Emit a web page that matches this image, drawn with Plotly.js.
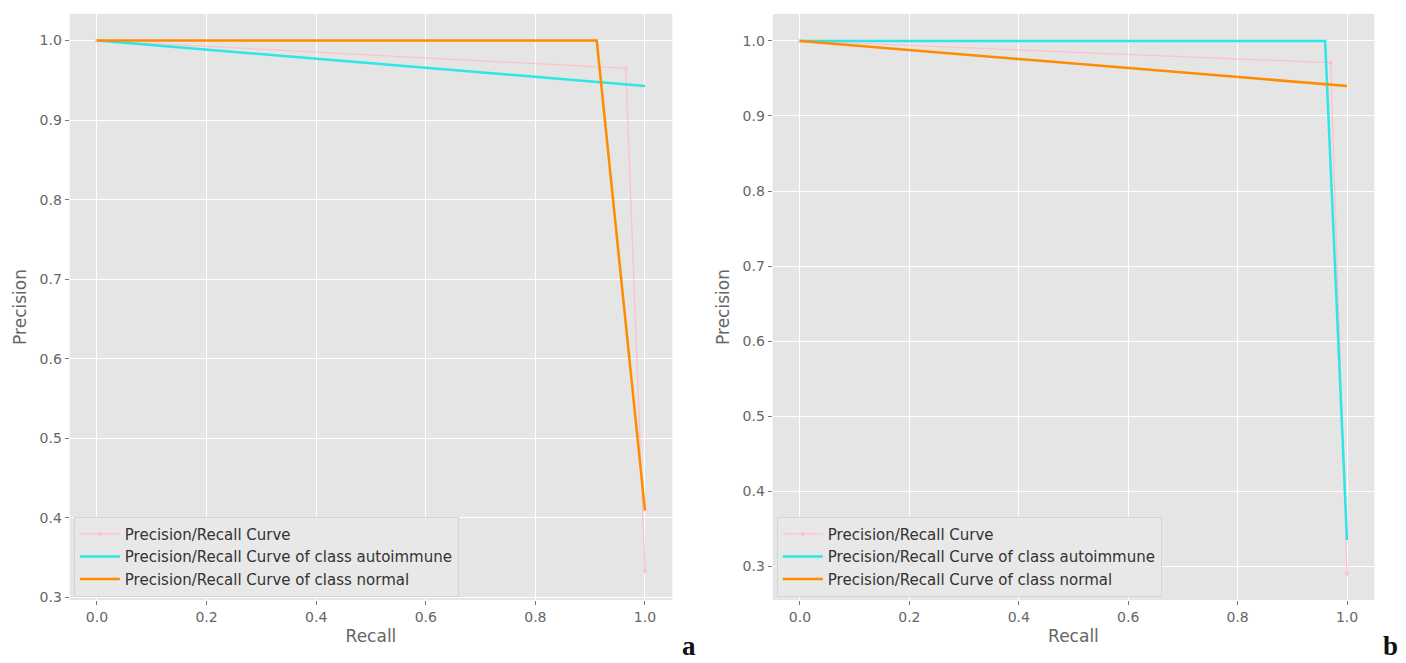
<!DOCTYPE html>
<html>
<head>
<meta charset="utf-8">
<script src="https://cdn.plot.ly/plotly-3.0.1.min.js"></script>
<style>html,body{margin:0;padding:0;background:#fff;}#chart{width:1406px;height:663px;}</style>
</head>
<body>
<div id="chart"></div>
<script>
// Panel a
const aPinkRecall = [0.0, 0.965, 1.0];
const aPinkPrecision = [1.0, 0.965, 0.333];
const aAutoRecall = [0.0, 1.0];
const aAutoPrecision = [1.0, 0.943];
const aNormalRecall = [0.0, 0.912, 1.0];
const aNormalPrecision = [1.0, 1.0, 0.409];
// Panel b
const bPinkRecall = [0.0, 0.97, 1.0];
const bPinkPrecision = [1.0, 0.971, 0.29];
const bAutoRecall = [0.0, 0.96, 1.0];
const bAutoPrecision = [1.0, 1.0, 0.335];
const bNormalRecall = [0.0, 1.0];
const bNormalPrecision = [1.0, 0.94];

const names = ["Precision/Recall Curve", "Precision/Recall Curve of class autoimmune", "Precision/Recall Curve of class normal"];
const xTicks = [0.0, 0.2, 0.4, 0.6, 0.8, 1.0];
const xTickText = ["0.0", "0.2", "0.4", "0.6", "0.8", "1.0"];
const yTicksA = [0.3, 0.4, 0.5, 0.6, 0.7, 0.8, 0.9, 1.0];
const yTicksB = [0.3, 0.4, 0.5, 0.6, 0.7, 0.8, 0.9, 1.0];
const yTickText = ["0.3", "0.4", "0.5", "0.6", "0.7", "0.8", "0.9", "1.0"];

const PINK = "#FFC0CB", CYAN = "#2EE6E6", ORANGE = "#FF8C00";

function traces(xa, ya, leg, pr, pp, ar, ap, nr, np) {
  return [
    {x: pr, y: pp, name: names[0], mode: "lines+markers", line: {color: PINK, width: 1.3}, marker: {color: PINK, size: 4}, xaxis: xa, yaxis: ya, legend: leg},
    {x: ar, y: ap, name: names[1], mode: "lines", line: {color: CYAN, width: 2.5}, xaxis: xa, yaxis: ya, legend: leg},
    {x: nr, y: np, name: names[2], mode: "lines", line: {color: ORANGE, width: 2.5}, xaxis: xa, yaxis: ya, legend: leg}
  ];
}

const data = [].concat(
  traces("x", "y", "legend", aPinkRecall, aPinkPrecision, aAutoRecall, aAutoPrecision, aNormalRecall, aNormalPrecision),
  traces("x2", "y2", "legend2", bPinkRecall, bPinkPrecision, bAutoRecall, bAutoPrecision, bNormalRecall, bNormalPrecision)
);

const tickFont = {family: "DejaVu Sans", size: 14, color: "#666666"};
const titleFont = {family: "DejaVu Sans", size: 17, color: "#666666"};
function xax(domain) {
  return {domain: domain, range: [-0.05, 1.05], tickvals: xTicks, ticktext: xTickText, showgrid: true, gridcolor: "#ffffff", gridwidth: 1,
    zeroline: false, showline: false, ticks: "outside", ticklen: 4, tickcolor: "#777777", tickfont: tickFont,
    title: {text: "Recall", font: titleFont, standoff: 6}};
}
function yax(range, tv, anchor) {
  return {domain: [0.095, 0.979], range: range, tickvals: tv, ticktext: yTickText, showgrid: true, gridcolor: "#ffffff", gridwidth: 1,
    zeroline: false, showline: false, ticks: "outside", ticklen: 4, tickcolor: "#777777", tickfont: tickFont, anchor: anchor,
    title: {text: "Precision", font: titleFont, standoff: 8}};
}
const legFont = {family: "DejaVu Sans", size: 15, color: "#333333"};
const layout = {
  width: 1406, height: 663,
  margin: {l: 0, r: 0, t: 0, b: 0},
  paper_bgcolor: "#ffffff",
  plot_bgcolor: "#E5E5E5",
  showlegend: true,
  xaxis: Object.assign(xax([0.0495, 0.4782]), {anchor: "y"}),
  yaxis: yax([0.2965, 1.0335], yTicksA, "x"),
  xaxis2: Object.assign(xax([0.5495, 0.9775]), {anchor: "y2"}),
  yaxis2: yax([0.255, 1.036], yTicksB, "x2"),
  legend: {x: 0.0525, y: 0.1, xanchor: "left", yanchor: "bottom", bgcolor: "rgba(232,232,232,0.9)", bordercolor: "#d4d4d4", borderwidth: 1, font: legFont, tracegroupgap: 0, itemwidth: 40},
  legend2: {x: 0.5525, y: 0.1, xanchor: "left", yanchor: "bottom", bgcolor: "rgba(232,232,232,0.9)", bordercolor: "#d4d4d4", borderwidth: 1, font: legFont, tracegroupgap: 0, itemwidth: 40},
  annotations: [
    {text: "<b>a</b>", x: 689, y: 646, xref: "paper", yref: "paper", showarrow: false, font: {family: "Liberation Serif", size: 27, color: "#111"}},
    {text: "<b>b</b>", x: 1390, y: 646, xref: "paper", yref: "paper", showarrow: false, font: {family: "Liberation Serif", size: 27, color: "#111"}}
  ].map(a => Object.assign(a, {x: a.x / 1406, y: 1 - a.y / 663, xanchor: "center", yanchor: "middle"}))
};
Plotly.newPlot("chart", data, layout, {displayModeBar: false, staticPlot: true});
</script>
</body>
</html>
